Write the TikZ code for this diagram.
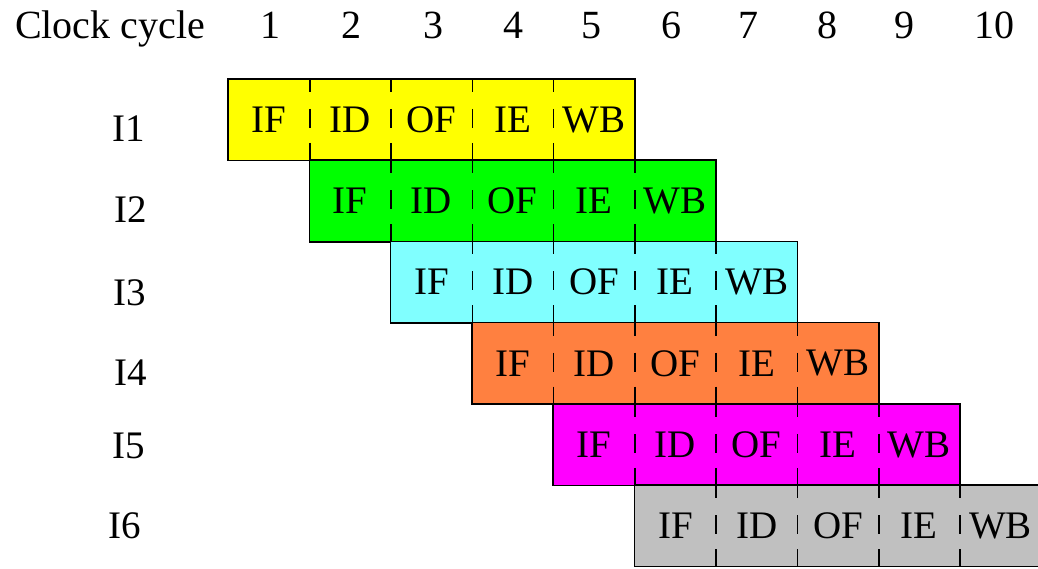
\documentclass[tikz,border=0pt]{standalone}
\usepackage{fontspec}
\setmainfont{Liberation Serif}
\definecolor{cA}{RGB}{255,255,0}
\definecolor{cB}{RGB}{0,255,0}
\definecolor{cC}{RGB}{128,255,255}
\definecolor{cD}{RGB}{255,128,64}
\definecolor{cE}{RGB}{255,0,255}
\definecolor{cF}{RGB}{192,192,192}
\begin{document}
\begin{tikzpicture}[x=1pt,y=-1pt,
  cell/.style={rectangle, minimum width=81.3pt, minimum height=81.2pt, inner sep=0pt,
    font=\fontsize{39}{41}\selectfont, anchor=north west},
  border/.style={draw=black, line width=1.6pt},
  divider/.style={draw=black, line width=1.6pt, dash pattern=on 13pt off 17pt on 19pt off 15pt on 22pt},
  hdr/.style={font=\fontsize{40}{42}\selectfont, inner sep=0pt, anchor=base},
  lbl/.style={font=\fontsize{39}{41}\selectfont, inner sep=0pt, anchor=base}]
\clip (0,0) rectangle (1038,569);
\fill[white] (0,0) rectangle (1038,569);
% header
\node[hdr, anchor=base west] (hc) at (15,38.5) {Clock cycle};
\foreach \num/\xx in {1/270,2/351,3/433,4/513,5/591,6/671,7/748,8/827,9/904,10/994}
  \node[hdr] (n\num) at (\xx,38.5) {\num};
% row labels
\foreach \row/\xx/\yy in {1/129/142,2/131/223,3/130/305,4/131/385,5/129/458,6/125/538}
  \node[lbl] (lab\row) at (\xx,\yy) {I\row};
% pipeline rows
\foreach \row/\col in {1/cA,2/cB,3/cC,4/cD,5/cE,6/cF} {
  \pgfmathsetmacro\xo{228+81.3*(\row-1)}
  \pgfmathsetmacro\yo{79+81.2*(\row-1)}
  \foreach \s [count=\k] in {IF,ID,OF,IE,WB} {
    \node[cell, fill=\col] (c\row\k) at ({\xo+81.3*(\k-1)},\yo) {\s};
  }
  \draw[border] (c\row1.north west) rectangle (c\row5.south east);
  \foreach \k in {1,...,4}
    \draw[divider] (c\row\k.north east) -- (c\row\k.south east);
}
\end{tikzpicture}
\end{document}
